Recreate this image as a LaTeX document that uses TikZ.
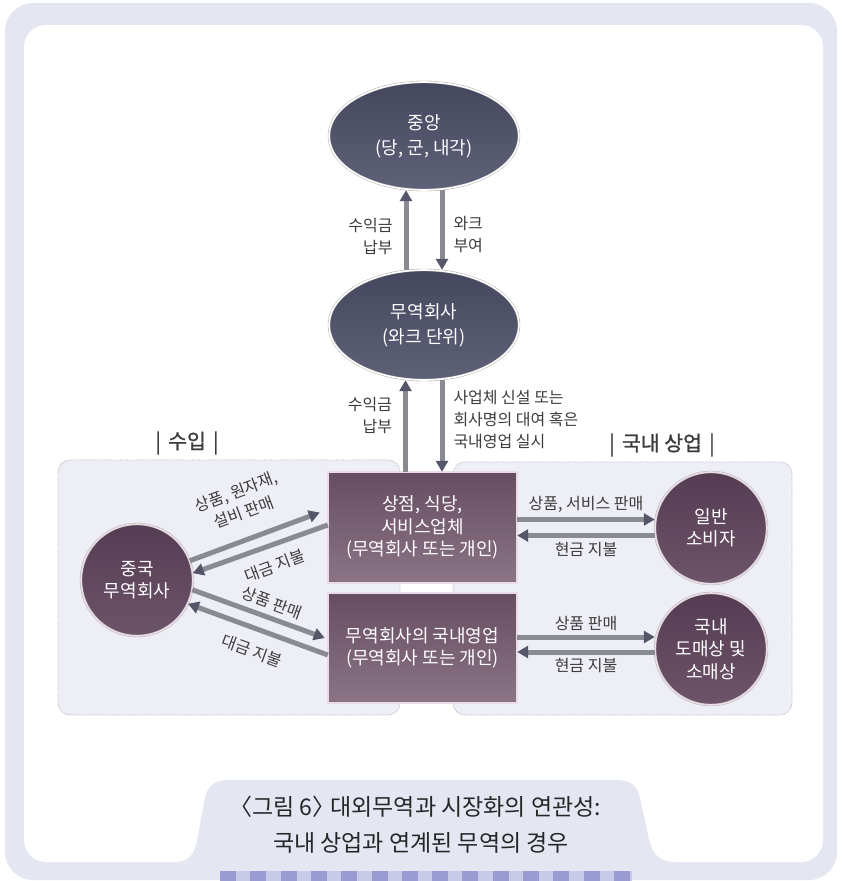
\documentclass[tikz,border=0pt]{standalone}
\usepackage{fontspec}
\setmainfont{Noto Sans CJK KR}
\newfontfamily\headfont[FakeBold=1.2]{Noto Sans CJK KR}
\usetikzlibrary{arrows.meta,shapes.geometric}
\definecolor{framelav}{HTML}{E4E6F2}
\definecolor{panelfill}{HTML}{EEEFF6}
\definecolor{paneledge}{HTML}{B4B5BE}
\definecolor{slatetop}{HTML}{45475E}
\definecolor{slatebot}{HTML}{5F6178}
\definecolor{plumtop}{HTML}{553C52}
\definecolor{plumbot}{HTML}{6E5469}
\definecolor{boxtop}{HTML}{674D61}
\definecolor{boxbot}{HTML}{8B7486}
\definecolor{ringpink}{HTML}{EADCE6}
\definecolor{flowline}{HTML}{8A8A92}
\definecolor{flowhead}{HTML}{55566A}
\definecolor{labelgray}{HTML}{3C3C3C}
\definecolor{stripedark}{HTML}{9A9BD2}
\definecolor{stripelight}{HTML}{C9CAE8}
\begin{document}
\begin{tikzpicture}[x=1pt, y=-1pt]
      \tikzstyle{oval}=[ellipse, minimum width=190pt, minimum height=108pt, top color=slatetop, bottom color=slatebot, draw=gray!70, double=white, double distance=1.6pt, line width=0.4pt, text=white, align=center, font=\fontsize{18}{25}\selectfont]
      \tikzstyle{agent}=[circle, minimum size=112pt, inner sep=0pt, top color=plumtop, bottom color=plumbot, draw=gray!60, double=ringpink, double distance=1.6pt, line width=0.4pt, text=white, align=center, font=\fontsize{18}{22.5}\selectfont]
      \tikzstyle{shopbox}=[rectangle, minimum width=189pt, minimum height=111pt, top color=boxtop, bottom color=boxbot, draw=gray!60, double=ringpink, double distance=1.4pt, line width=0.4pt, text=white, align=center, font=\fontsize{18}{22.5}\selectfont]
      \tikzstyle{flow}=[draw=flowline, line width=5pt, -{Triangle[length=11pt, width=12pt, color=flowhead]}]
      \tikzstyle{lbl}=[text=labelgray, font=\fontsize{16}{22}\selectfont, inner sep=2pt]
      \tikzstyle{panel}=[fill=panelfill, draw=paneledge, densely dotted, line width=0.8pt, rounded corners=12pt]
      \tikzstyle{section}=[text=labelgray, font=\headfont\fontsize{20.5}{24}\selectfont]
      \useasboundingbox (0,0) rectangle (842,881);

      % frame and caption tab
      \fill[framelav, rounded corners=28pt] (5,3) rectangle (837,880);
      \fill[white, rounded corners=22pt] (24,25) rectangle (823,862);
      \fill[framelav] (175,862) .. controls (192,862) and (196,850) .. (198,835) -- (205,798)
        .. controls (208,785) and (215,780) .. (230,780) -- (615,780)
        .. controls (630,780) and (637,785) .. (640,798) -- (648,835)
        .. controls (651,850) and (656,862) .. (675,862) -- cycle;
      \fill[stripelight] (220,871) rectangle (632,881);
      \foreach \i in {0,...,13} {%
        \fill[stripedark] ({220+30.3*\i},871) rectangle ({236+30.3*\i},881);
      }

      % two panels
      \draw[panel] (58,460) rectangle (400,715);
      \draw[panel] (453,462) rectangle (792,715);

      \node[oval] (center) at (424, 136) {중앙\\(당, 군, 내각)};
      \node[oval, minimum height=110pt] (firm) at (424, 325) {무역회사\\(와크 단위)};
      \node[shopbox] (shop) at (422.5, 527.5) {상점, 식당,\\서비스업체\\(무역회사 또는 개인)};
      \node[shopbox, minimum height=110pt] (sales) at (422.5, 648) {무역회사의 국내영업\\(무역회사 또는 개인)};
      \node[agent] (china) at (137, 580) {중국\\무역회사};
      \node[agent] (buyer) at (711, 528) {일반\\소비자};
      \node[agent] (retail) at (711, 649) {국내\\도매상 및\\소매상};

      \node[section] (importlbl) at (187, 443) {|\hspace{0.35em}수입\hspace{0.35em}|};
      \node[section] (tradelbl) at (662, 445) {|\hspace{0.35em}국내 상업\hspace{0.35em}|};

      % vertical flows
      \draw[flow] ([xshift=-18pt]firm.north) -- ([xshift=-18pt]firm.north |- center.south)
        node[lbl, pos=0.42, left=9pt, align=right] {수익금\\납부};
      \draw[flow] ([xshift=18pt]center.south) -- ([xshift=18pt]center.south |- firm.north)
        node[lbl, pos=0.56, right=7pt, align=left] {와크\\부여};
      \draw[flow] ([xshift=-17pt]shop.north) -- ([xshift=-17pt]shop.north |- firm.south)
        node[lbl, pos=0.61, left=9pt, align=right] {수익금\\납부};
      \draw[flow] ([xshift=19.5pt]shop.north |- firm.south) -- ([xshift=19.5pt]shop.north)
        node[lbl, pos=0.43, right=7pt, align=left] {사업체 신설 또는\\회사명의 대여 혹은\\국내영업 실시};

      % domestic flows
      \draw[flow] ([yshift=8pt]shop.east) -- ([yshift=8pt]shop.east -| buyer.west)
        node[lbl, midway, above=2pt] {상품, 서비스 판매};
      \draw[flow] ([yshift=-8pt]shop.east -| buyer.west) -- ([yshift=-8pt]shop.east)
        node[lbl, midway, below=2pt] {현금 지불};
      \draw[flow] ([yshift=11pt]sales.east) -- ([yshift=11pt]sales.east -| retail.west)
        node[lbl, midway, above=2pt] {상품 판매};
      \draw[flow] ([yshift=-4pt]sales.east -| retail.west) -- ([yshift=-4pt]sales.east)
        node[lbl, midway, below=2pt] {현금 지불};

      % import flows
      \draw[flow] (china.20) -- ([xshift=-8pt, yshift=15pt]shop.west);
      \draw[flow] ([yshift=2.5pt]shop.west) -- (china.7);
      \draw[flow] (china.-10) -- ([xshift=-3pt, yshift=10pt]sales.west);
      \draw[flow] ([yshift=-7pt]sales.west) -- (china.-25);
      \node[lbl, rotate=20.5, align=center] (goodslbl) at (240, 502) {상품, 원자재,\\설비 판매};
      \node[lbl, rotate=20.5] (paylbl) at (275, 566) {대금 지불};
      \node[lbl, rotate=-20] (salelbl) at (272, 603) {상품 판매};
      \node[lbl, rotate=-20] (paylbltwo) at (252, 651) {대금 지불};

      \node[text=black!85, align=center, font=\fontsize{23}{36}\selectfont] (caption) at (421, 825)
        {\kern-0.5em〈그림 6〉\kern-0.45em\ 대외무역과 시장화의 연관성:\\국내 상업과 연계된 무역의 경우};
    \end{tikzpicture}
\end{document}
